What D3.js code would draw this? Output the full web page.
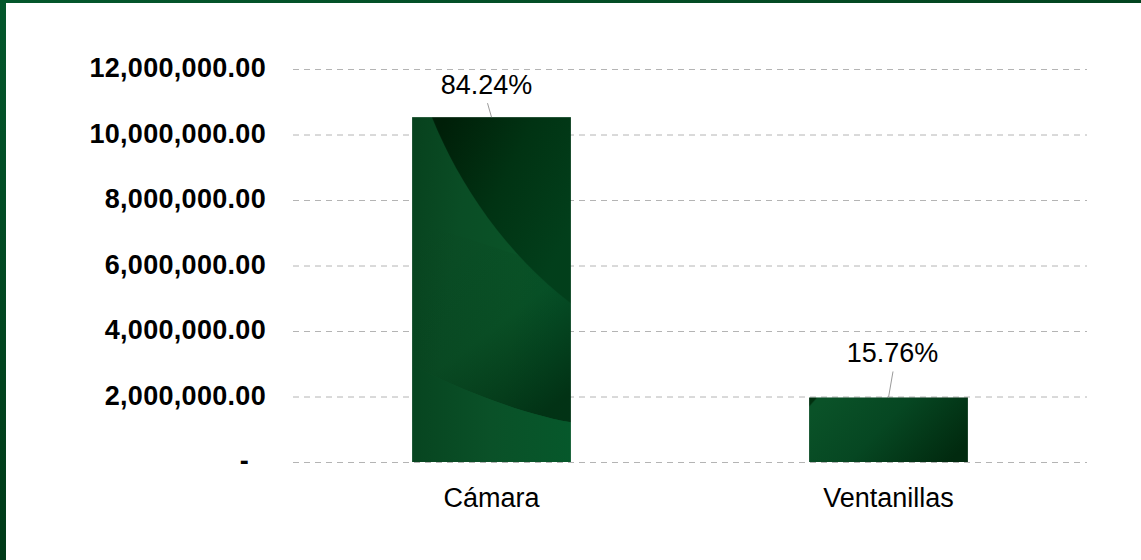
<!DOCTYPE html>
<html><head><meta charset="utf-8">
<script src="https://cdn.jsdelivr.net/npm/d3@7"></script>
<style>
html,body{margin:0;padding:0;background:#fff;}
svg{display:block;font-family:"Liberation Sans",Arial,Helvetica,sans-serif;}
</style></head>
<body>
<svg id="chart" width="1141" height="560"></svg>
<script>
const categories = ["Cámara", "Ventanillas"];
const values = [10530000, 1970000];
const percentLabels = ["84.24%", "15.76%"];
const yTicks = [0, 2000000, 4000000, 6000000, 8000000, 10000000, 12000000];

const W = 1141, H = 560;
const svg = d3.select("#chart");
const defs = svg.append("defs");

// frame gradients
const fl = defs.append("linearGradient").attr("id","frameLeft").attr("x1",0).attr("y1",0).attr("x2",0).attr("y2",1);
fl.append("stop").attr("offset",0).attr("stop-color","#03572c");
fl.append("stop").attr("offset",1).attr("stop-color","#003a18");
const ft = defs.append("linearGradient").attr("id","frameTop").attr("x1",0).attr("y1",0).attr("x2",1).attr("y2",0);
ft.append("stop").attr("offset",0).attr("stop-color","#03572c");
ft.append("stop").attr("offset",0.5).attr("stop-color","#044e26");
ft.append("stop").attr("offset",1).attr("stop-color","#02441f");

function lg(id, x1,y1,x2,y2, stops){
  const g = defs.append("linearGradient").attr("id",id).attr("x1",x1).attr("y1",y1).attr("x2",x2).attr("y2",y2);
  stops.forEach(s=>g.append("stop").attr("offset",s[0]).attr("stop-color",s[1]).attr("stop-opacity", s[2]==null?1:s[2]));
}
lg("b1base",0,0,1,0.3,[[0,"#07411d"],[0.35,"#0a4d25"],[0.75,"#0a5428"],[1,"#06552a"]]);
lg("b1dark",0.1,0,1,0.6,[[0,"#001f08"],[0.5,"#013313"],[1,"#023f1b"]]);
lg("b1shadow",0.15,0,0.75,1,[[0,"#012a10",0],[0.55,"#012a10",0.12],[1,"#012a10",0.8]]);
lg("b1low",0,0,1,0,[[0,"#074520"],[0.5,"#0a5128"],[1,"#06582b"]]);
lg("b2base",0,0.3,1,0.7,[[0,"#0a5228"],[0.45,"#064722"],[1,"#012a0f"]]);

const p1 = defs.append("pattern").attr("id","tex0").attr("patternUnits","objectBoundingBox")
  .attr("patternContentUnits","objectBoundingBox").attr("width",1).attr("height",1);
p1.append("rect").attr("width",1).attr("height",1).attr("fill","url(#b1base)");
p1.append("path").attr("d","M0,0.3 L1,0.45 L1,0.885 C0.7,0.86 0.35,0.8 0,0.72 Z").attr("fill","url(#b1shadow)");
p1.append("path").attr("d","M0,0.72 C0.35,0.8 0.7,0.86 1,0.885 L1,1 L0,1 Z").attr("fill","url(#b1low)");
p1.append("path").attr("d","M0.125,0 C0.3,0.2 0.6,0.4 1,0.54 L1,0 Z").attr("fill","url(#b1dark)");

const p2 = defs.append("pattern").attr("id","tex1").attr("patternUnits","objectBoundingBox")
  .attr("patternContentUnits","objectBoundingBox").attr("width",1).attr("height",1);
p2.append("rect").attr("width",1).attr("height",1).attr("fill","url(#b2base)");
p2.append("path").attr("d","M0,0 L0.05,0 C0.03,0.06 0.015,0.1 0,0.14 Z").attr("fill","#01300f");

// frame
svg.append("rect").attr("x",0).attr("y",0).attr("width",W).attr("height",3).attr("fill","url(#frameTop)");
svg.append("rect").attr("x",0).attr("y",0).attr("width",6).attr("height",H).attr("fill","url(#frameLeft)");

const x = d3.scaleBand().domain(categories).range([293,1087]).paddingInner(0.6).paddingOuter(0.3);
const y = d3.scaleLinear().domain([0,12000000]).range([462,69]);

// grid
svg.append("g").selectAll("line").data(yTicks).join("line")
  .attr("x1",293).attr("x2",1087)
  .attr("y1",d=>y(d)+0.5).attr("y2",d=>y(d)+0.5)
  .attr("stroke","#b4b4b4").attr("stroke-width",1).attr("stroke-dasharray","6,5");

// y axis labels
const fmt = d3.format(",.2f");
const yAxis = d3.axisLeft(y).tickValues(yTicks).tickSize(0).tickPadding(0)
  .tickFormat(d => d===0 ? "-" : fmt(d));
const gy = svg.append("g").attr("transform","translate(266,0)").call(yAxis);
gy.select(".domain").remove();
gy.selectAll("text").attr("font-family","'Liberation Sans',Arial,sans-serif")
  .attr("font-size",27).attr("font-weight","bold").attr("fill","#000")
  .attr("dy","0.28em").attr("letter-spacing","0.3px")
  .attr("dx", d => d===0 ? -17 : 0);

// bars
svg.append("g").selectAll("rect").data(values).join("rect")
  .attr("x",(d,i)=>x(categories[i]))
  .attr("y",d=>y(d))
  .attr("width",x.bandwidth())
  .attr("height",d=>y(0)-y(d))
  .attr("fill",(d,i)=>`url(#tex${i})`);

// leader lines & percent labels
const lx = [[-4,0],[4.5,0]];
const lyTop = [14, 26];
svg.append("g").selectAll("line").data(values).join("line")
  .attr("x1",(d,i)=>x(categories[i])+x.bandwidth()/2+lx[i][0])
  .attr("y1",(d,i)=>y(d)-lyTop[i])
  .attr("x2",(d,i)=>x(categories[i])+x.bandwidth()/2)
  .attr("y2",d=>y(d))
  .attr("stroke","#9a9a9a").attr("stroke-width",1);
const labOff = [[-5,23],[4,35]];
svg.append("g").selectAll("text").data(values).join("text")
  .attr("x",(d,i)=>x(categories[i])+x.bandwidth()/2+labOff[i][0])
  .attr("y",(d,i)=>y(d)-labOff[i][1])
  .attr("text-anchor","middle").attr("font-size",27).attr("fill","#000")
  .text((d,i)=>percentLabels[i]);

// x axis labels
const xAxis = d3.axisBottom(x).tickSize(0).tickPadding(0);
const gx = svg.append("g").attr("transform","translate(0,462)").call(xAxis);
gx.select(".domain").remove();
gx.selectAll("text").attr("font-family","'Liberation Sans',Arial,sans-serif")
  .attr("font-size",27).attr("fill","#000").attr("dy",0).attr("y",45);
</script>
</body></html>
